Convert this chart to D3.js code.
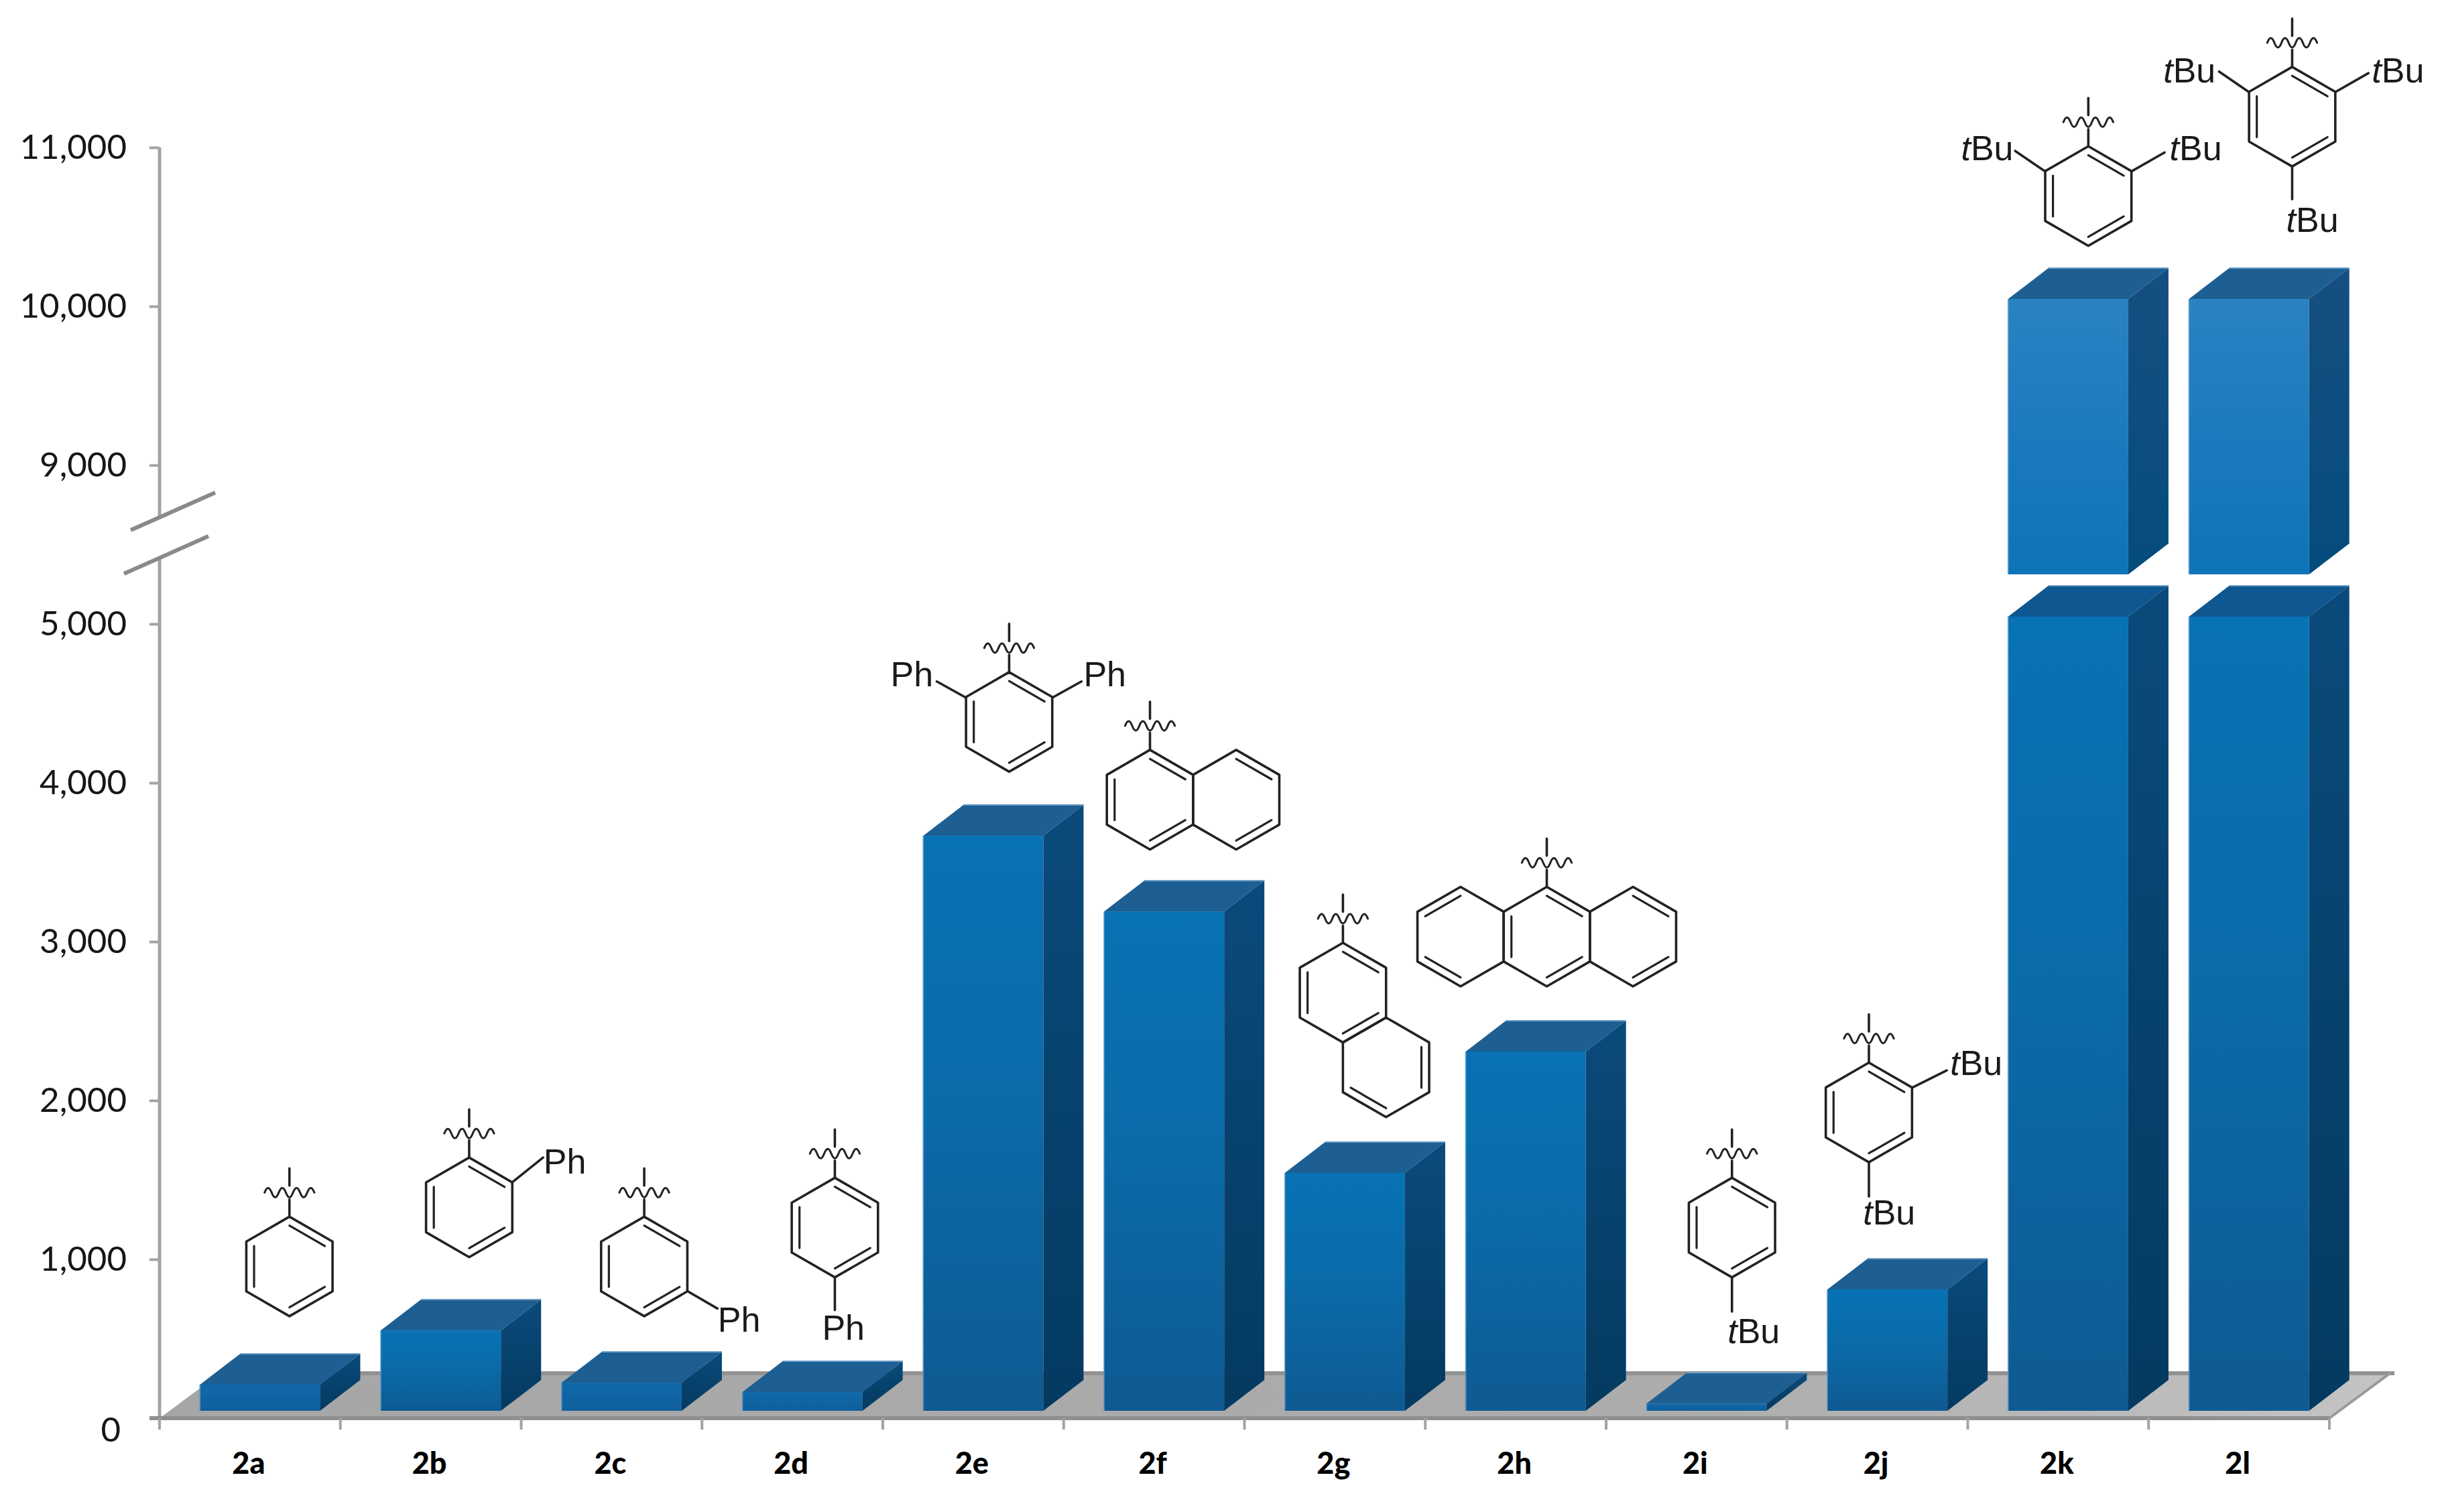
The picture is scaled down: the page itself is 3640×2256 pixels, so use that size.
<!DOCTYPE html>
<html><head><meta charset="utf-8">
<script src="https://cdn.jsdelivr.net/npm/d3@7"></script>
<style>html,body{margin:0;padding:0;background:#fff}svg{display:block}</style>
</head><body><svg id="c" width="3640" height="2256" viewBox="0 0 3640 2256"></svg>
<script>
const categories = ["2a","2b","2c","2d","2e","2f","2g","2h","2i","2j","2k","2l"];
const values = [165,506,177,118,3620,3143,1498,2262,45,764,10000,10000];
const yTicks = [0,1000,2000,3000,4000,5000,9000,10000,11000];
const breakLow = 5000, breakHigh = 8266;

const K = 3640/1568;
const svg = d3.select("#c");
const defs = svg.append("defs");
function grad(id, stops, x2=0, y2=1){
  const g = defs.append("linearGradient").attr("id",id).attr("x1",0).attr("y1",0).attr("x2",x2).attr("y2",y2);
  stops.forEach(([o,c])=>g.append("stop").attr("offset",o).attr("stop-color",c));
}
grad("front",[[0,"#0772b4"],[.45,"#0a6ba9"],[1,"#0f5a92"]]);
grad("frontUp",[[0,"#2a82c2"],[.5,"#1b7abd"],[1,"#0d74b7"]]);
grad("frontShort",[[0,"#1169aa"],[1,"#0f5f9c"]]);
grad("side",[[0,"#0a4a7b"],[1,"#043a60"]]);
grad("sideUp",[[0,"#164f81"],[1,"#044c7d"]]);
grad("floor",[[0,"#a6a6a6"],[.7,"#adadad"],[1,"#c4c4c4"]],1,0);

// scales: polylinear with a flat step across the axis break
const y = d3.scaleLinear().domain([0,5000,8000,11000]).range([2116,931,931,220]);
const x = d3.scaleBand().domain(categories).range([238,3475]).paddingInner(.3286).paddingOuter(.1643);

// 3-D projection constants
const depth = {dx:60, dy:46}, floorDepth = {dx:93, dy:69};
const base = 11, shift = 16;

// floor
const fl = y(0), fr = x.range()[1], f0 = x.range()[0];
const floorPts = [[f0,fl],[fr,fl],[fr+floorDepth.dx,fl-floorDepth.dy],[f0+floorDepth.dx,fl-floorDepth.dy]];
svg.append("polygon").attr("points",floorPts.join(" ")).attr("fill","url(#floor)");
svg.append("line").attr("x1",floorPts[3][0]).attr("x2",floorPts[2][0]+4)
  .attr("y1",fl-floorDepth.dy+2).attr("y2",fl-floorDepth.dy+2).attr("stroke","#929292").attr("stroke-width",6);
svg.append("line").attr("x1",floorPts[1][0]).attr("y1",fl).attr("x2",floorPts[2][0]).attr("y2",floorPts[2][1])
  .attr("stroke","#9a9a9a").attr("stroke-width",4);

// axes
const axisCol = "#a3a3a3";
const yAxis = svg.append("g").attr("transform",`translate(${f0},0)`)
  .call(d3.axisLeft(y).tickValues(yTicks).tickFormat(d3.format(",")).tickSize(15).tickPadding(35));
yAxis.select(".domain").remove();
yAxis.selectAll(".tick line").attr("stroke",axisCol).attr("stroke-width",4);
yAxis.selectAll(".tick text").attr("font-family","Lato").attr("font-size",51).attr("fill","#161616")
  .attr("dy",d=>d===0?"0.68em":"0.32em").attr("x",d=>d===0?-58:-49);

svg.append("line").attr("x1",f0).attr("x2",f0).attr("y1",y(0)).attr("y2",833).attr("stroke",axisCol).attr("stroke-width",5);
svg.append("line").attr("x1",f0).attr("x2",f0).attr("y1",770).attr("y2",y(11000)).attr("stroke",axisCol).attr("stroke-width",5);
[[195,791,321,735],[185,856,311,800]].forEach(s=>svg.append("line")
  .attr("x1",s[0]).attr("y1",s[1]).attr("x2",s[2]).attr("y2",s[3]).attr("stroke","#8a8a8a").attr("stroke-width",6));

svg.append("line").attr("x1",f0-15).attr("x2",fr).attr("y1",fl).attr("y2",fl).attr("stroke","#8f8f8f").attr("stroke-width",6);
const xTickPos = d3.range(categories.length+1).map(i=>f0+i*x.step());
svg.selectAll(".xt").data(xTickPos).join("line").attr("class","xt")
  .attr("x1",d=>d).attr("x2",d=>d).attr("y1",fl).attr("y2",fl+17).attr("stroke",axisCol).attr("stroke-width",4);
const xAxis = svg.append("g").attr("transform",`translate(0,${fl})`)
  .call(d3.axisBottom(x).tickSize(0).tickPadding(51));
xAxis.select(".domain").remove();
xAxis.selectAll(".tick text").attr("font-family","Lato").attr("font-weight",900).attr("font-size",45).attr("fill","#000").attr("dx",-2);

// bars: each value becomes one or two 3-D segments
const segments = [];
categories.forEach((c,i)=>{
  const v = values[i];
  if(v>breakLow){
    segments.push({c,lo:0,hi:breakLow,f:"url(#front)",s:"url(#side)",t:"#0e5790"});
    segments.push({c,lo:breakHigh,hi:v,f:"url(#frontUp)",s:"url(#sideUp)",t:"#1d5f93"});
  } else {
    segments.push({c,lo:0,hi:v,f:v<300?"url(#frontShort)":"url(#front)",s:"url(#side)",t:"#1d5f93"});
  }
});
const bar = svg.selectAll(".bar").data(segments).join("g").attr("class","bar");
const W = x.bandwidth()-2;
const L = d=>x(d.c)+shift, R = d=>L(d)+W, T = d=>y(d.hi)-base, B = d=>y(d.lo)-base;
bar.append("rect").attr("x",L).attr("y",T).attr("width",W).attr("height",d=>B(d)-T(d)).attr("fill",d=>d.f);
bar.append("polygon").attr("fill",d=>d.t)
  .attr("points",d=>[[L(d),T(d)],[R(d),T(d)],[R(d)+depth.dx,T(d)-depth.dy],[L(d)+depth.dx,T(d)-depth.dy]].join(" "));
bar.append("polygon").attr("fill",d=>d.s)
  .attr("points",d=>[[R(d),T(d)],[R(d)+depth.dx,T(d)-depth.dy],[R(d)+depth.dx,B(d)-depth.dy],[R(d),B(d)]].join(" "));
bar.append("line").attr("x1",d=>L(d)+depth.dx).attr("x2",d=>R(d)+depth.dx).attr("y1",d=>T(d)-depth.dy).attr("y2",d=>T(d)-depth.dy)
  .attr("stroke","#6f9fc6").attr("stroke-width",2);
bar.append("line").attr("x1",L).attr("x2",L).attr("y1",T).attr("y2",B).attr("stroke","#5a97c8").attr("stroke-width",2).attr("opacity",.7);

// chemical structure annotations, placed in reference units (1568-wide frame)
const structures = [
 {rings:[[186,814,[0,2,4]]],top:[186,782]},
 {rings:[[301.5,776,[0,2,4]]],top:[301.5,744],bonds:[[329,760,349,744]],texts:[["Ph",363,746]]},
 {rings:[[414,814,[0,2,4]]],top:[414,782],bonds:[[442,830,461,841]],texts:[["Ph",475,848]]},
 {rings:[[536.5,789,[0,2,4]]],top:[536.5,757],bonds:[[536.5,821,536.5,842]],texts:[["Ph",542,853]]},
 {rings:[[648.5,464,[0,2,4]]],top:[648.5,432],bonds:[[620,448,602,438],[677,448,695,438]],texts:[["Ph",586,433],["Ph",710,433]]},
 {rings:[[739,514,[0,2,4]],[794.4,514,[0,2]]],top:[739,482]},
 {rings:[[863,638,[0,2,4]],[890.7,686,[1,3]]],top:[863,606]},
 {rings:[[938.6,602,[5,3]],[994,602,[0,2,4]],[1049.4,602,[0,2]]],top:[994,570]},
 {rings:[[1113,789,[0,2,4]]],top:[1113,757],bonds:[[1113,821,1113,843]],texts:[["tBu",1127,855]]},
 {rings:[[1201,715,[0,2,4]]],top:[1201,683],bonds:[[1229,699,1251,688],[1201,747,1201,769]],texts:[["tBu",1270,683],["tBu",1214,779]]},
 {rings:[[1342,126,[0,2,4]]],top:[1342,94],bonds:[[1314,110,1295,97],[1370,110,1391,98]],texts:[["tBu",1277,95],["tBu",1411,95]]},
 {rings:[[1473,75,[0,2,4]]],top:[1473,43],bonds:[[1445,59,1426,46],[1501,59,1522,47],[1473,107,1473,128]],texts:[["tBu",1407,45],["tBu",1541,45],["tBu",1486,141]]}
];
const chem = svg.append("g").attr("stroke","#222").attr("stroke-width",3.6).attr("fill","none").attr("stroke-linecap","round").attr("stroke-linejoin","round");
const Rad = 32;
const hex = (cx,cy)=>d3.range(6).map(i=>{const a=-Math.PI/2+i*Math.PI/3;return [cx+Rad*Math.cos(a),cy+Rad*Math.sin(a)];});
const seg = (x1,y1,x2,y2)=>chem.append("line").attr("x1",x1*K).attr("y1",y1*K).attr("x2",x2*K).attr("y2",y2*K);
structures.forEach(s=>{
  s.rings.forEach(([cx,cy,dbl])=>{
    const v = hex(cx,cy);
    chem.append("polygon").attr("points",v.map(p=>[p[0]*K,p[1]*K]).join(" "));
    dbl.forEach(e=>{
      const a=v[e], b=v[(e+1)%6], f=.18;
      seg(a[0]+(cx-a[0])*f,a[1]+(cy-a[1])*f,b[0]+(cx-b[0])*f,b[1]+(cy-b[1])*f).attr("stroke-width",3.2);
    });
  });
  const [tx,ty]=s.top;
  seg(tx,ty,tx,ty-11); seg(tx,ty-20,tx,ty-31);
  // wavy bond-break mark
  const x0=(tx-16)*K, y0=(ty-15.5)*K, hw=32*K/7;
  const w=[`M${x0},${y0}`];
  for(let i=0;i<7;i++){
    const px=x0+i*hw, up=i%2===0?-1:1;
    w.push(`Q${px+hw/2},${y0+up*14} ${px+hw},${y0}`);
  }
  chem.append("path").attr("d",w.join(" ")).attr("stroke-width",3);
  (s.bonds||[]).forEach(b=>seg(...b));
  (s.texts||[]).forEach(([t,tx2,ty2])=>{
    const el=svg.append("text").attr("x",tx2*K).attr("y",ty2*K).attr("dy","0.36em").attr("text-anchor","middle")
      .attr("font-family","Liberation Sans").attr("font-size",52).attr("fill","#1a1a1a");
    if(t[0]==="t"){ el.append("tspan").attr("font-style","italic").text("t"); el.append("tspan").text(t.slice(1)); }
    else el.text(t);
  });
});
</script></body></html>
